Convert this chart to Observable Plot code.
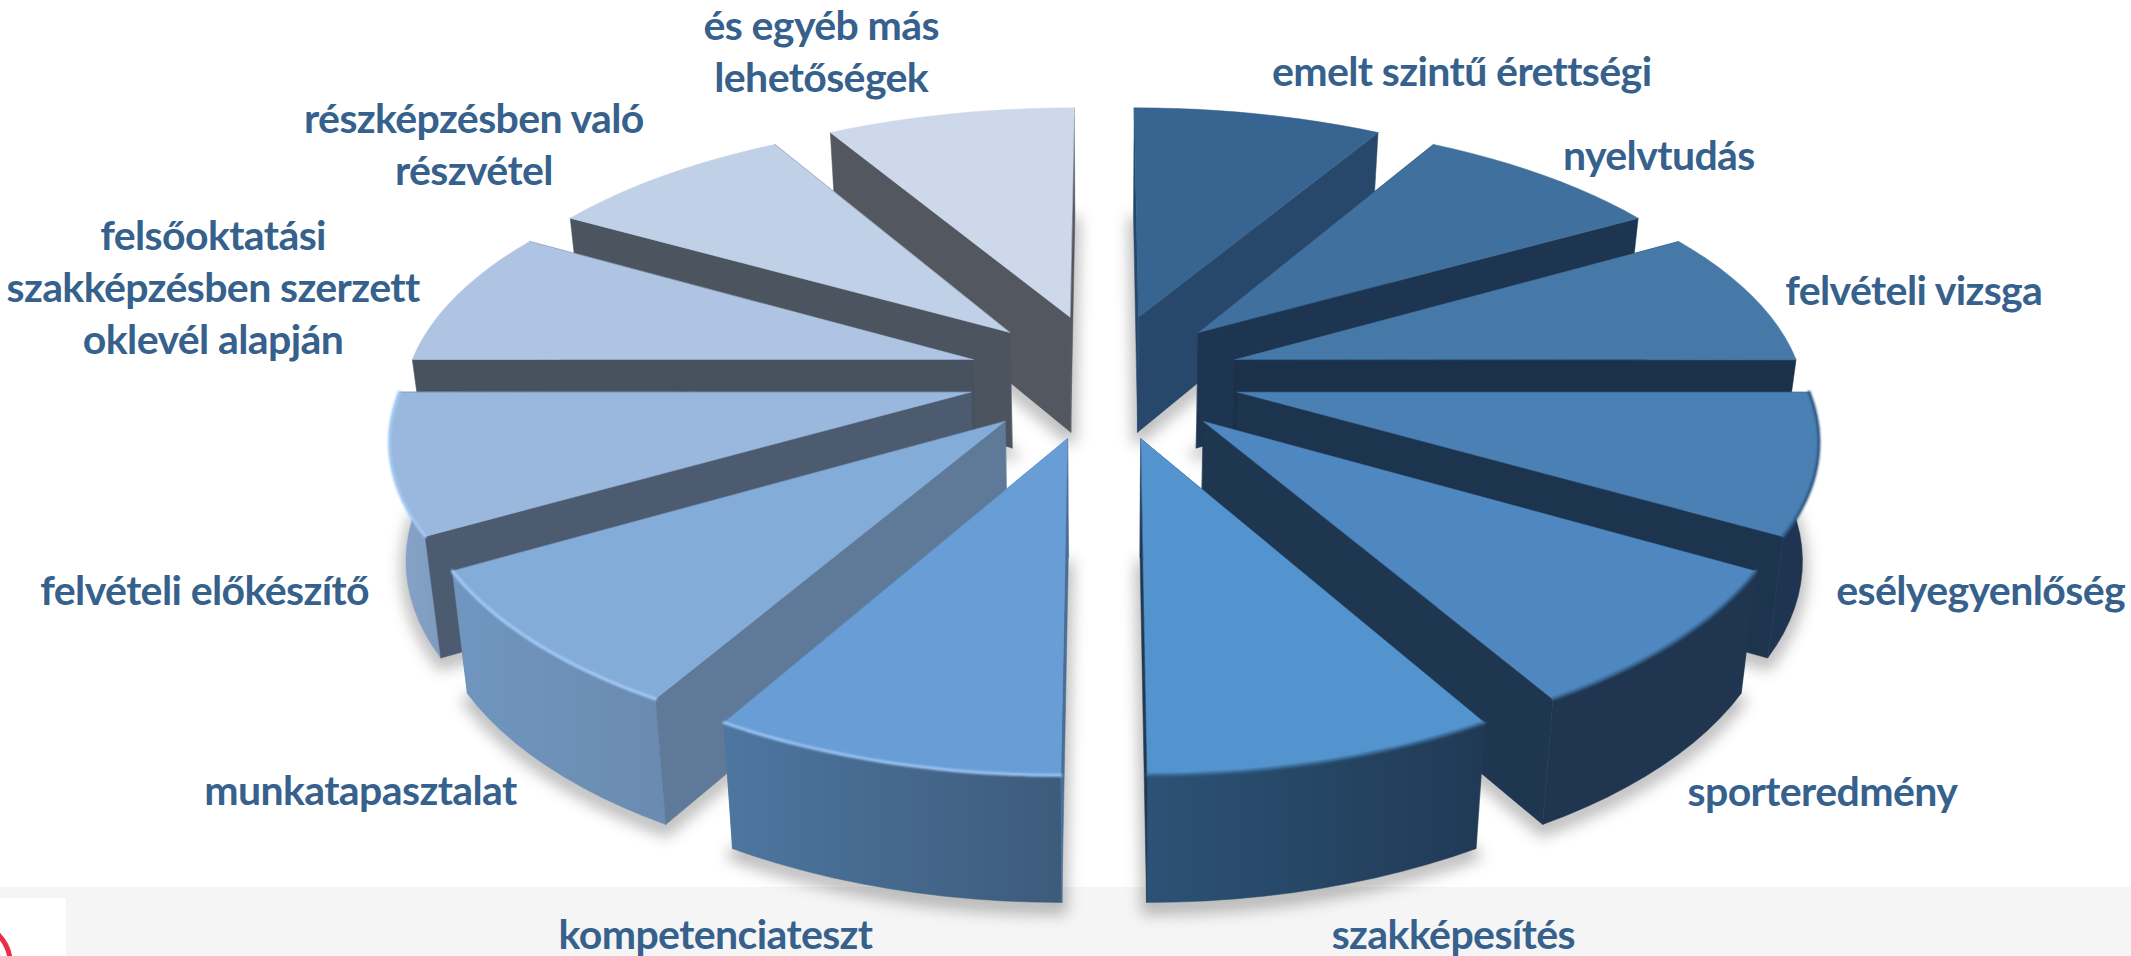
<!DOCTYPE html>
<html>
<head>
<meta charset="utf-8">
<script src="https://cdn.jsdelivr.net/npm/d3@7"></script>
<script src="https://cdn.jsdelivr.net/npm/@observablehq/plot@0.6"></script>
<style>
html,body{margin:0;padding:0;background:#fff;overflow:hidden}
svg{display:block}
svg text{letter-spacing:-0.6px}
</style>
</head>
<body>
<div id="chart"></div>
<script>
// ---- data ----
const categories = [
  "emelt szintű érettségi","nyelvtudás","felvételi vizsga","esélyegyenlőség",
  "sporteredmény","szakképesítés","kompetenciateszt","munkatapasztalat",
  "felvételi előkészítő","felsőoktatási\nszakképzésben szerzett\noklevél alapján",
  "részképzésben való\nrészvétel","és egyéb más\nlehetőségek"
];
const shares = [1,1,1,1,1,1,1,1,1,1,1,1];

// ---- colours ----
const topColors = ["#376490","#40709d","#4678a8","#4b80b5","#4f88c1","#5494ce","#689dd6","#84acd9","#9ab7dd","#aec4e2","#bfd0e7","#cdd8ea"];
const faceColors = ["#27486a","#1d3550","#1b3049","#1d344e","#1f3650","#203a55","#4a6f96","#5f7a98","#4c5b70","#47525f","#4c555f","#53575f"];
const rimFrom = [null,null,null,"#1e3450","#203650","#2c5275","#4d76a0","#7096bf","#8aa6ca",null,null,null];
const rimTo   = [null,null,null,"#1e3450","#203650","#203a55","#3d5b7b","#6a8bb1","#7d9bc0",null,null,null];
const seamColors = [null,null,null,"#2f5a85","#35618c","#35628c","#9cc4f3","#a4cbf7","#a4cbf7",null,null,null];

// ---- layout: where each label sits around the pie (degrees clockwise from top, radius in pie radii) ----
const labelAngle  = [28.7,49.6,77.6,118.5,141.8,164.1,197.6,219.2,242.1,281.6,308.1,337.9];
const labelRadius = [1.613,1.485,1.542,1.553,1.631,1.672,1.687,1.653,1.585,1.695,1.645,1.655];

// ---- view of the 3D pie ----
const W = 2131, H = 956;
const view = {cx:1103.7, cy:375.2, sx:566, sy:260, persp:0.16, perspX:0.148, explode:0.242, depth:117, depthSlope:8.2, shrink:0.977};
function project(X, Y, lower) {
  let x = view.sx * X / (1 - view.perspX * Y), y = view.cy + view.sy * Y / (1 - view.persp * Y);
  if (lower) { x *= view.shrink; y += view.depth + view.depthSlope * Y; }
  return {x: view.cx + x, y};
}
function labelPoint(X, Y) {
  const p = 1 - view.persp * Y;
  return {x: view.cx + view.sx * X / p, y: view.cy + view.sy * Y / p};
}
const arcs = d3.pie().sort(null).startAngle(0).endAngle(2*Math.PI)(shares);
const world = (a, r, arc) => {
  const mid = (arc.startAngle + arc.endAngle) / 2;
  return [r*Math.sin(a) + view.explode*Math.sin(mid), -r*Math.cos(a) - view.explode*Math.cos(mid)];
};
const rimAngles = arc => d3.range(13).map(i => arc.startAngle + (arc.endAngle - arc.startAngle) * i / 12);

// painter's order: back pair first, front pair last
const order = [0,11,1,10,2,9,3,8,4,7,5,6];
const faces = [], seams = [], shadows = [];
function addFace(id, fill, pts) { pts.forEach(p => faces.push({face:id, fill, x:p.x, y:p.y})); }
order.forEach(i => {
  const arc = arcs[i], right = i < 6;
  const at = (a, r, low) => { const [X,Y] = world(a, r, arc); return project(X, Y, low); };
  const radial = a => [at(a,0,false), at(a,1,false), at(a,1,true), at(a,0,true)];
  const angles = rimAngles(arc);
  const hiddenA = right ? arc.startAngle : arc.endAngle;
  const shownA  = right ? arc.endAngle : arc.startAngle;
  addFace(`${i}-back`, faceColors[i], radial(hiddenA));
  if (rimFrom[i]) addFace(`${i}-rim`, `url(#rim${i})`, [...angles.map(a => at(a,1,false)), ...angles.slice().reverse().map(a => at(a,1,true))]);
  addFace(`${i}-side`, faceColors[i], radial(shownA));
  addFace(`${i}-top`, topColors[i], [at(0,0,false), ...angles.map(a => at(a,1,false))]);
  if (seamColors[i]) angles.forEach(a => seams.push({slice:i, stroke:seamColors[i], ...at(a,1,false)}));
  [at(0,0,true), ...angles.map(a => at(a,1,true))].forEach(p => shadows.push({slice:i, x:p.x, y:p.y + 7}));
});

const labels = categories.map((text, i) => {
  const a = labelAngle[i]*Math.PI/180, r = labelRadius[i];
  return {text, ...labelPoint(r*Math.sin(a), -r*Math.cos(a))};
});

function gradients() {
  const defs = d3.create("svg:defs");
  arcs.forEach((_, i) => {
    if (!rimFrom[i]) return;
    const g = defs.append("linearGradient").attr("id", `rim${i}`).attr("x1",0).attr("x2",1).attr("y1",0).attr("y2",0);
    g.append("stop").attr("offset",0).attr("stop-color", rimFrom[i]);
    g.append("stop").attr("offset",1).attr("stop-color", rimTo[i]);
  });
  return defs.node();
}

const chart = Plot.plot({
  width: W, height: H, margin: 0,
  x: {domain:[0,W], range:[0,W], axis:null},
  y: {domain:[0,H], range:[0,H], axis:null},
  color: {type:"identity"},
  style: {background:"#fff", overflow:"hidden"},
  marks: [
    gradients,
    // lower strip and logo tile of the slide
    Plot.rect([{x1:0,x2:W,y1:887,y2:H}], {x1:"x1",x2:"x2",y1:"y1",y2:"y2",fill:"#f5f5f5"}),
    Plot.rect([{x1:0,x2:66,y1:898,y2:H}], {x1:"x1",x2:"x2",y1:"y1",y2:"y2",fill:"#fff"}),
    Plot.dot([{x:-35,y:965}], {x:"x",y:"y",r:45,stroke:"#e8304a",strokeWidth:5,fill:"none"}),
    // soft drop shadow
    Plot.line(shadows, {x:"x",y:"y",z:"slice",fill:"#000",fillOpacity:0.17,stroke:"#000",strokeOpacity:0.17,strokeWidth:14,curve:"linear-closed",imageFilter:"blur(7px)"}),
    // faces
    Plot.line(faces, {x:"x",y:"y",z:"face",fill:"fill",stroke:"fill",strokeWidth:0.5,curve:"linear-closed"}),
    // bevel along the rim
    Plot.line(seams, {x:"x",y:"y",z:"slice",stroke:"stroke",strokeWidth:3,curve:"catmull-rom",imageFilter:"blur(1.2px)"}),
    // labels
    Plot.text(labels, {x:"x",y:"y",dy:-6,text:"text",fontSize:41,fontWeight:700,fontFamily:"Lato, sans-serif",fill:"#36618c",lineHeight:1.27})
  ]
});
document.getElementById("chart").append(chart);
</script>
</body>
</html>
